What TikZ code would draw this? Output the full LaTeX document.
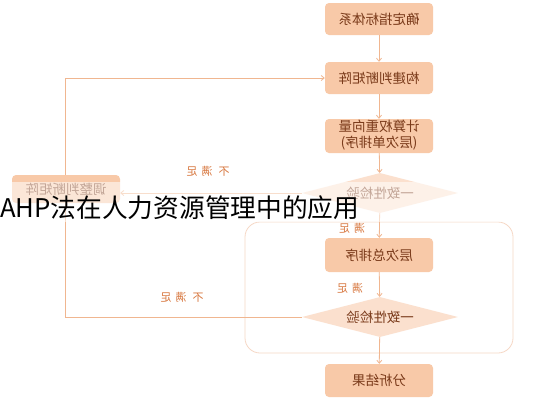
\documentclass[tikz,border=0pt]{standalone}
\usepackage{fontspec}
\usepackage{graphicx}
\newfontfamily\cjk{Noto Sans CJK SC}
\usetikzlibrary{shapes.geometric,arrows.meta}
\newcommand{\mirtxt}[1]{\scalebox{-1}[1]{#1}}
\definecolor{boxfill}{HTML}{F8C9A8}
\definecolor{diafill}{HTML}{FBE0CE}
\definecolor{boxtext}{HTML}{7A3A1A}
\definecolor{linec}{HTML}{F0B690}
\definecolor{labc}{HTML}{D87840}
\definecolor{framec}{HTML}{F6D8C6}
\tikzset{
  stepbox/.style={draw=none, fill=boxfill, rounded corners=4pt, minimum width=108pt, minimum height=33pt, inner sep=0pt, text=boxtext, font=\cjk\fontsize{13.5}{16}\selectfont},
  checkdia/.style={diamond, aspect=3.9, fill=diafill, draw=none, minimum width=156pt, minimum height=40pt, inner sep=0pt, text=boxtext, font=\cjk\fontsize{13.5}{16}\selectfont},
  lab/.style={text=labc, font=\cjk\fontsize{11}{13}\selectfont, inner sep=0pt},
  conn/.style={draw=linec, line width=0.8pt, -{Straight Barb[length=3pt,width=5pt]}},
}
\begin{document}
\begin{tikzpicture}[x=1pt,y=-1pt]
\useasboundingbox (0,0) rectangle (533,400);
\fill[white] (0,0) rectangle (533,400);
% big frame
\draw[framec, line width=0.8pt, rounded corners=15pt] (245,222) rectangle (513,353);
% main nodes
\node[stepbox, minimum height=32pt] (b1) at (379,19) {\mirtxt{确定指标体系}};
\node[stepbox, minimum height=32pt] (b2) at (379,78) {\mirtxt{构建判断矩阵}};
\node[stepbox, minimum height=34pt] (b3) at (379,136) {\mirtxt{\begin{tabular}{@{}c@{}}计算权重向量\\(层次单排序)\end{tabular}}};
\node[checkdia] (d1) at (380,193) {\mirtxt{一致性检验}};
\node[stepbox, minimum height=34pt] (b4) at (379,255) {\mirtxt{层次总排序}};
\node[checkdia] (d2) at (380,317) {\mirtxt{一致性检验}};
\node[stepbox] (b5) at (379,380.5) {\mirtxt{分析结果}};
% vertical connectors
\draw[conn] (b1) -- (b2);
\draw[conn] (b2) -- (b3);
\draw[conn] (b3) -- (d1);
\draw[conn] (d1) -- (b4);
\draw[conn] (b4) -- (d2);
\draw[conn] (d2) -- (b5);
% loop back
\coordinate (lx) at (65,0);
\draw[conn] (d2.west) -- (d2.west -| lx) -- (b2.west -| lx) -- (b2.west);
% adjust box
\node[stepbox, minimum width=108pt, minimum height=28pt] (adj) at (66,189) {\mirtxt{调整判断矩阵}};
\draw[conn] (d1.west) -- (adj.east |- d1.west);
% labels
\node[lab] (l1) at (208,171) {\mirtxt{不\hspace{6pt}满\hspace{4pt}足}};
\node[lab] (l2) at (182,297) {\mirtxt{不\hspace{6pt}满\hspace{4pt}足}};
\node[lab] (l3) at (352,228) {\mirtxt{满\hspace{4pt}足}};
\node[lab] (l4) at (350,288) {\mirtxt{满\hspace{4pt}足}};
% faded band
\fill[white, opacity=0.55] (0,182) rectangle (533,222);
% overlay title
\node[anchor=base west, inner sep=0pt, font=\cjk\fontsize{25.7}{28}\selectfont, text=black] (title) at (0,217) {AHP法在人力资源管理中的应用};
\end{tikzpicture}
\end{document}
